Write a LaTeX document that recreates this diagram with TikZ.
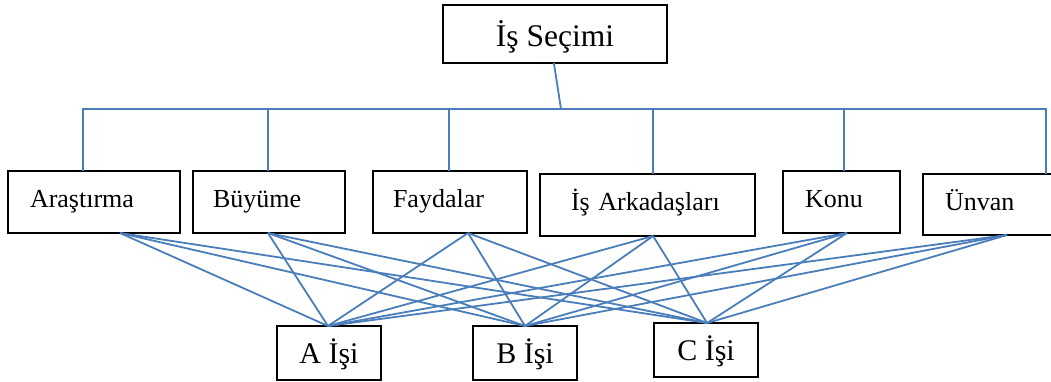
\documentclass[tikz,border=0pt]{standalone}
\usepackage{fontspec}
\setmainfont{Liberation Serif}
\usetikzlibrary{calc}
\definecolor{linkblue}{RGB}{74,126,187}

\begin{document}
\begin{tikzpicture}[x=1pt,y=-1pt,
  box/.style={draw=black, line width=1.4pt, rectangle, outer sep=0pt, anchor=north west},
  crit/.style={box, font=\fontsize{26}{30}\selectfont, align=left,
    text height=18pt, text depth=7pt, inner ysep=0pt},
  job/.style={box, minimum width=104pt, minimum height=54pt, inner sep=0pt,
    font=\fontsize{30}{34}\selectfont, text height=26pt, text depth=6pt},
  link/.style={draw=linkblue, line width=1.8pt}
]
\useasboundingbox (0,0) rectangle (1051,381);

% goal
\node[box, minimum width=224pt, minimum height=58pt, inner sep=0pt,
  font=\fontsize{31.5}{36}\selectfont, text height=30pt, text depth=6pt]
  (top) at (443,5) {İş Seçimi};

% criteria
\node[crit, minimum height=62pt, inner xsep=22pt, text width=128pt] (ar) at (8,171)   {Araştırma};
\node[crit, minimum height=62pt, inner xsep=20pt, text width=112pt] (bu) at (193,171) {Büyüme};
\node[crit, minimum height=62pt, inner xsep=20pt, text width=114pt] (fa) at (373,171) {Faydalar};
\node[crit, minimum height=62pt, inner xsep=31pt, text width=153pt] (is) at (540,174) {İş Arkadaşları};
\node[crit, minimum height=62pt, inner xsep=22pt, text width=73pt]  (ko) at (783,171) {Konu};
\node[crit, minimum height=61pt, inner xsep=22pt, text width=96pt]  (un) at (923,174) {Ünvan};

% alternatives
\node[job] (A) at (277,326) {A İşi};
\node[job] (B) at (473,326) {B İşi};
\node[job] (C) at (654,323) {C İşi};

% attachment points
\coordinate (bus) at (0,109);
\coordinate (hub) at (561,109);
\path ($(top.south west)!0.495!(top.south east)$) coordinate (top-dn);
\path ($(ar.north west)!0.436!(ar.north east)$) coordinate (ar-up)
      ($(bu.north west)!0.493!(bu.north east)$) coordinate (bu-up)
      ($(fa.north west)!0.494!(fa.north east)$) coordinate (fa-up)
      ($(is.north west)!0.526!(is.north east)$) coordinate (is-up)
      ($(ko.north west)!0.521!(ko.north east)$) coordinate (ko-up)
      ($(un.north west)!0.879!(un.north east)$) coordinate (un-up);
\path ($(ar.south west)!0.651!(ar.south east)$) coordinate (ar-dn)
      ($(bu.south west)!0.493!(bu.south east)$) coordinate (bu-dn)
      ($(fa.south west)!0.617!(fa.south east)$) coordinate (fa-dn)
      ($(is.south west)!0.526!(is.south east)$) coordinate (is-dn)
      ($(ko.south west)!0.547!(ko.south east)$) coordinate (ko-dn)
      ($(un.south west)!0.600!(un.south east)$) coordinate (un-dn);
\path ($(A.north west)!0.49!(A.north east)$) coordinate (A-in)
      ($(B.north west)!0.50!(B.north east)$) coordinate (B-in)
      ($(C.north west)!0.51!(C.north east)$) coordinate (C-in);

% tree from the goal to the criteria
\draw[link] (top-dn) -- (hub);
\draw[link] (ar-up) |- (un-up |- bus) -- (un-up);
\foreach \n in {bu,fa,is,ko}
  \draw[link] (\n-up) -- (\n-up |- bus);

% every criterion to every alternative
\foreach \m in {ar,bu,fa,is,ko,un}
  \foreach \j in {A,B,C}
    \draw[link] (\m-dn) -- (\j-in);
\end{tikzpicture}
\end{document}
